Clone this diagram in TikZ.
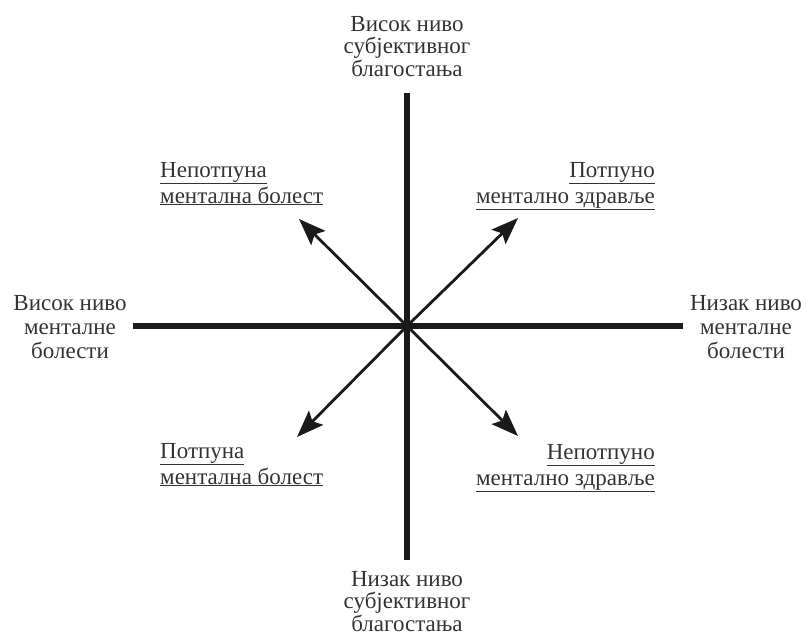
\documentclass[tikz,border=0pt]{standalone}
\usepackage{fontspec}
\setmainfont{Liberation Serif}
\usetikzlibrary{arrows.meta}
\definecolor{ink}{HTML}{1A1A1A}
\definecolor{txt}{HTML}{333333}
\tikzset{
  axis/.style={line width=6pt, draw=ink},
  arr/.style={line width=2.8pt, draw=ink, -{Stealth[length=27pt, width=20pt, inset=5pt]}},
  lbl/.style={text=txt, inner sep=0pt},
  vlbl/.style={lbl, align=center, font=\fontsize{23}{22.3}\selectfont},
  hlbl/.style={lbl, align=center, font=\fontsize{23}{24}\selectfont},
  qlbl/.style={lbl, font=\fontsize{23}{26}\selectfont},
}
\begin{document}
\begin{tikzpicture}[x=1pt, y=-1pt]
\useasboundingbox (0,0) rectangle (806,641);
% axis ends and centre
\coordinate (O) at (407,326);
\coordinate (N) at (407,93);
\coordinate (S) at (407,560);
\coordinate (W) at (133,326);
\coordinate (E) at (683,326);
% arrow tips
\coordinate (tUL) at (299,219);
\coordinate (tUR) at (518,218);
\coordinate (tLL) at (297,437);
\coordinate (tLR) at (518,436);

\draw[axis] (N) -- (S);
\draw[axis] (W) -- (E);
\fill[ink] (O) circle (5pt);
\draw[arr] (O) -- (tUL);
\draw[arr] (O) -- (tUR);
\draw[arr] (O) -- (tLL);
\draw[arr] (O) -- (tLR);

% axis labels (base anchor = baseline of the last line)
\node[vlbl, anchor=base] (top) at (407,76) {Висок ниво\\субјективног\\благостања};
\node[vlbl, anchor=base] (bot) at (407,631) {Низак ниво\\субјективног\\благостања};
\node[hlbl, anchor=base] (lft) at (70,358) {Висок ниво\\менталне\\болести};
\node[hlbl, anchor=base] (rgt) at (746,358) {Низак ниво\\менталне\\болести};

% quadrant labels
\node[qlbl, align=left, anchor=base west] (ul) at (160,203) {\underline{Непотпуна}\\\underline{ментална болест}};
\node[qlbl, align=right, anchor=base east] (ur) at (655,203) {\underline{Потпуно}\\\underline{ментално здравље}};
\node[qlbl, align=left, anchor=base west] (ll) at (160,484) {\underline{Потпуна}\\\underline{ментална болест}};
\node[qlbl, align=right, anchor=base east] (lr) at (655,485) {\underline{Непотпуно}\\\underline{ментално здравље}};
\end{tikzpicture}
\end{document}
